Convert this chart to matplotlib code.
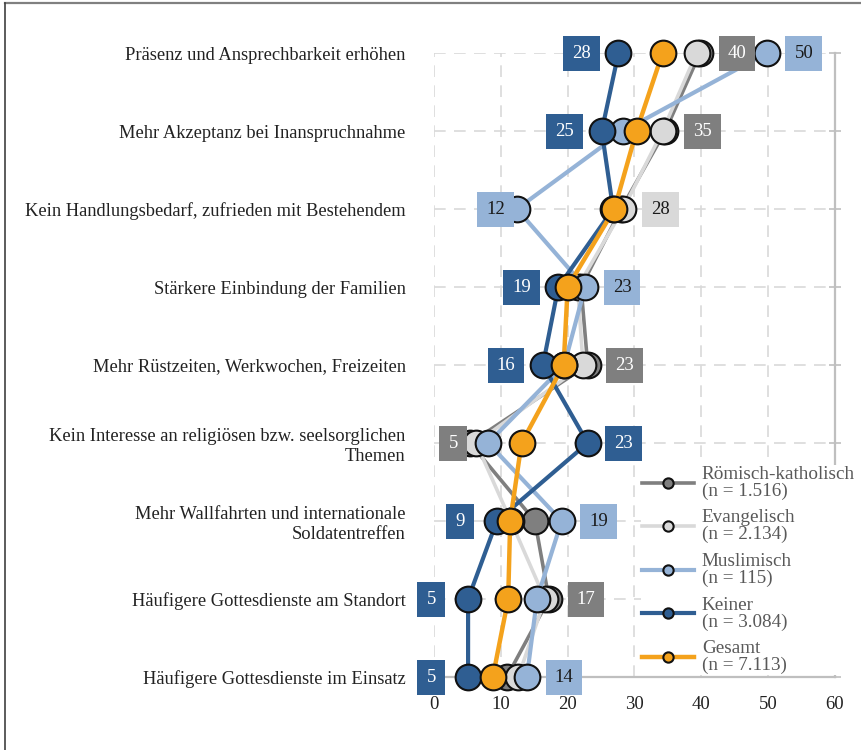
import matplotlib
matplotlib.use("Agg")
import matplotlib.pyplot as plt
from matplotlib.lines import Line2D

plt.rcParams["font.family"] = ["Liberation Serif", "DejaVu Serif"]

categories = [
    "Präsenz und Ansprechbarkeit erhöhen",
    "Mehr Akzeptanz bei Inanspruchnahme",
    "Kein Handlungsbedarf, zufrieden mit Bestehendem",
    "Stärkere Einbindung der Familien",
    "Mehr Rüstzeiten, Werkwochen, Freizeiten",
    "Kein Interesse an religiösen bzw. seelsorglichen\nThemen",
    "Mehr Wallfahrten und internationale\nSoldatentreffen",
    "Häufigere Gottesdienste am Standort",
    "Häufigere Gottesdienste im Einsatz",
]

# Anteile in Prozent
roemisch = [39.8, 34.6, 28.0, 22.0, 23.0, 5.4, 15.1, 17.2, 10.9]
evangelisch = [39.3, 34.2, 28.3, 21.5, 22.3, 6.3, 11.5, 16.6, 12.6]
muslimisch = [49.8, 28.3, 12.4, 22.6, 19.5, 8.1, 19.1, 15.4, 13.9]
keiner = [27.6, 25.1, 26.8, 18.6, 16.3, 23.0, 9.4, 5.1, 5.1]
gesamt = [34.2, 30.3, 27.0, 20.0, 19.4, 13.1, 11.4, 11.1, 8.8]

legend_labels = [
    "Römisch-katholisch\n(n = 1.516)",
    "Evangelisch\n(n = 2.134)",
    "Muslimisch\n(n = 115)",
    "Keiner\n(n = 3.084)",
    "Gesamt\n(n = 7.113)",
]

x_ticks = [0, 10, 20, 30, 40, 50, 60]

# which points carry a value box: (row, series index)
value_labels = [
    (0, 3), (0, 0), (0, 2),
    (1, 3), (1, 0),
    (2, 2), (2, 1),
    (3, 3), (3, 2),
    (4, 3), (4, 0),
    (5, 0), (5, 3),
    (6, 3), (6, 2),
    (7, 3), (7, 0),
    (8, 3), (8, 2),
]

series = [roemisch, evangelisch, muslimisch, keiner, gesamt]
colors = ["#7f7f7f", "#d9d9d9", "#95b3d7", "#2f5e92", "#f4a21c"]
text_colors = ["white", "#1a1a1a", "#1a1a1a", "white", "#1a1a1a"]
widths = [2.6, 2.6, 3.0, 3.0, 3.2]

fig = plt.figure(figsize=(8.62, 7.5), dpi=100)
ax = fig.add_axes([434 / 862, 1 - 677 / 750, 401 / 862, 624 / 750])

rows = list(range(len(categories)))
for i, (vals, col, lw, lab) in enumerate(zip(series, colors, widths, legend_labels)):
    ax.plot(
        vals,
        rows,
        color=col,
        lw=lw,
        marker="o",
        markersize=18.5,
        markerfacecolor=col,
        markeredgecolor="#111111",
        markeredgewidth=1.5,
        zorder=3 + i * 0.1,
        clip_on=False,
        label=lab,
    )

for row, s in value_labels:
    val = series[s][row]
    dx = -37 if s == 3 else 37
    # a few boxes sit elsewhere in the original
    if (row, s) == (2, 2):
        dx = -21
    if (row, s) == (5, 0):
        dx = -17
    if (row, s) == (5, 3):
        dx = 36
    ax.annotate(
        f"{val:.0f}",
        xy=(val, row),
        xytext=(dx, 0),
        textcoords="offset pixels",
        ha="center",
        va="center",
        fontsize=13.5,
        color=text_colors[s],
        zorder=6,
        annotation_clip=False,
        bbox=dict(boxstyle="square,pad=0.48", facecolor=colors[s], edgecolor="none"),
    )

ax.set_xlim(0, 60)
ax.set_ylim(len(categories) - 1, 0)
ax.set_xticks(x_ticks)
ax.set_yticks(rows)
ax.set_yticklabels(categories, fontsize=13.3, color="#222222")
ax.tick_params(axis="y", left=False, right=True, direction="inout", length=9,
               width=1.2, color="#bfbfbf", pad=16)
ax.tick_params(axis="x", length=0, labelsize=13.5, labelcolor="#222222", pad=14)

ax.set_axisbelow(True)
ax.grid(True, color="#d9d9d9", lw=1.2, linestyle=(0, (7, 5)))
for side in ["left", "top"]:
    ax.spines[side].set_visible(False)
for side in ["right", "bottom"]:
    ax.spines[side].set_color("#bfbfbf")
    ax.spines[side].set_linewidth(1.6)

leg = ax.legend(
    loc="upper left",
    bbox_to_anchor=(0.733, 0.393),
    bbox_transform=fig.transFigure,
    fontsize=13.8,
    markerscale=0.4,
    handlelength=2.7,
    handletextpad=0.4,
    labelspacing=0.5,
    borderpad=0.05,
    frameon=True,
    fancybox=False,
    framealpha=1,
    edgecolor="none",
    facecolor="white",
)
leg.set_zorder(7)
for t in leg.get_texts():
    t.set_color("#595959")
    t.set_linespacing(0.98)

# frame lines of the original graphic
fig.add_artist(Line2D([5 / 862, 1], [1 - 3 / 750] * 2, color="#808080", lw=1.6,
                      transform=fig.transFigure))
fig.add_artist(Line2D([5 / 862] * 2, [0, 1 - 3 / 750], color="#404040", lw=1.2,
                      transform=fig.transFigure))

fig.savefig("out.png", dpi=100, facecolor="white")
